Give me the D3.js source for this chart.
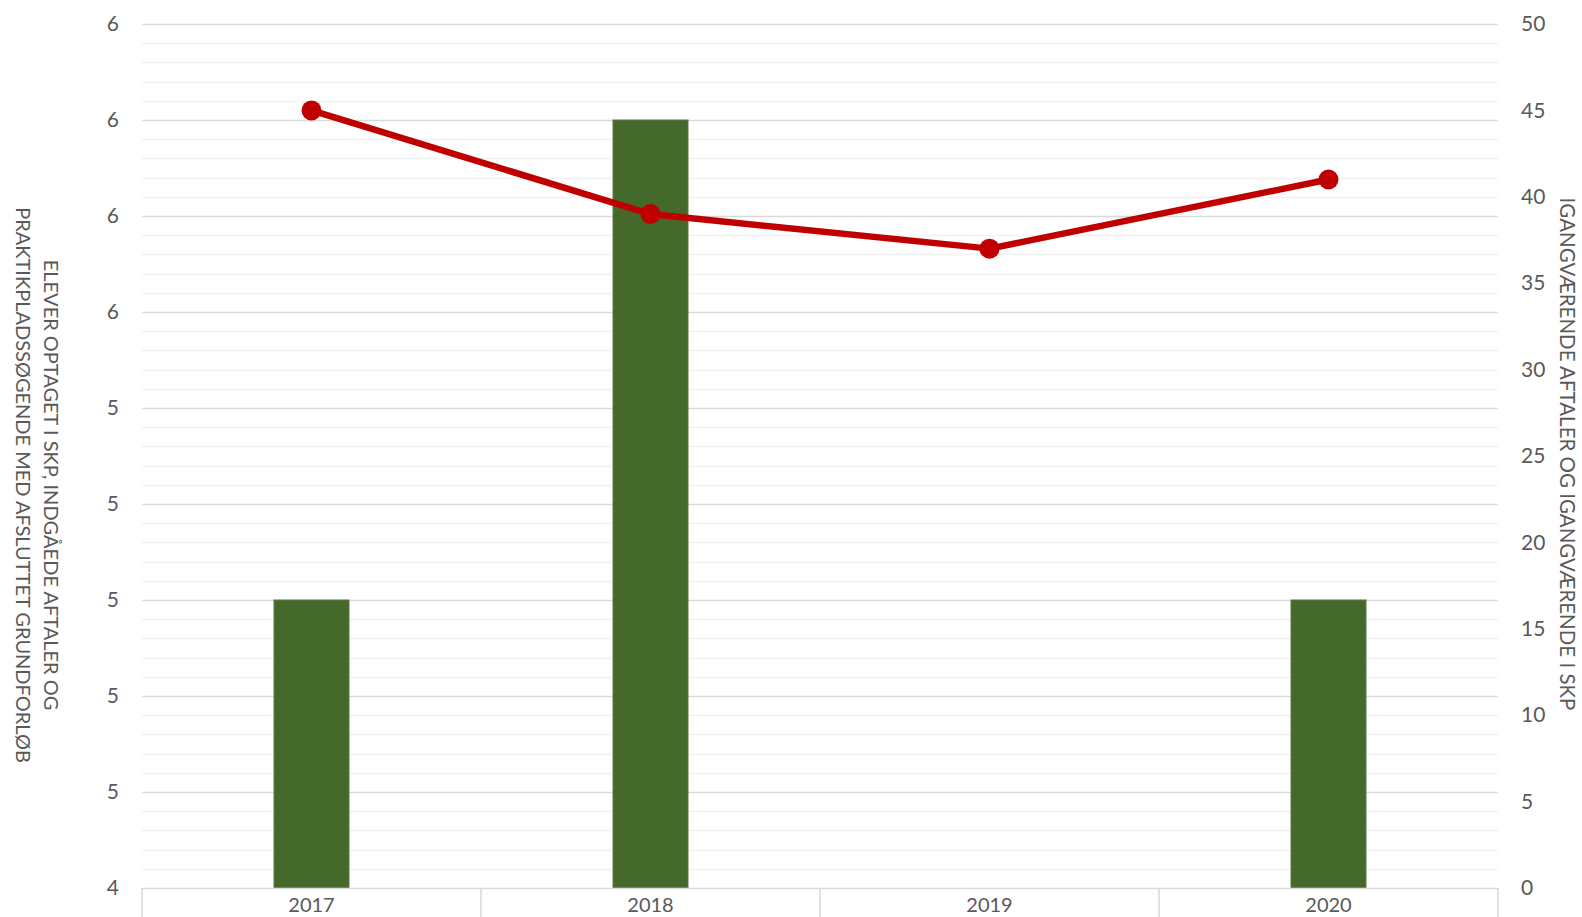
<!DOCTYPE html>
<html>
<head>
<meta charset="utf-8">
<script src="https://cdn.jsdelivr.net/npm/d3@7"></script>
<style>
  body { margin: 0; background: #fff; }
  text { font-family: Lato, "Open Sans", sans-serif; fill: #595959; }
</style>
</head>
<body>
<div id="chart"></div>
<script>
// Data
var years = ["2017", "2018", "2019", "2020"];
var barValues = [5, 6, null, 5];        // elever optaget i SKP mv. (left axis)
var lineValues = [45, 39, 37, 41];      // igangværende aftaler (right axis)
var leftTicks = [4.4, 4.6, 4.8, 5.0, 5.2, 5.4, 5.6, 5.8, 6.0, 6.2];
var rightTicks = [0, 5, 10, 15, 20, 25, 30, 35, 40, 45, 50];

var svgWidth = 1582;
var svgHeight = 917;

var margin = { top: 24, right: 84, bottom: 29, left: 142 };
var chartW = svgWidth - margin.left - margin.right;
var chartH = svgHeight - margin.top - margin.bottom;

var svg = d3.select("#chart")
  .append("svg")
  .attr("width", svgWidth)
  .attr("height", svgHeight);

var chartGrp = svg.append("g")
  .attr("transform", `translate(${margin.left}, ${margin.top})`);

// scales
var xScale = d3.scaleBand()
  .domain(years)
  .range([0, chartW]);

var yLeft = d3.scaleLinear()
  .domain([4.4, 6.2])
  .range([chartH, 0]);

var yRight = d3.scaleLinear()
  .domain([0, 50])
  .range([chartH, 0]);

// minor gridlines (every 0.04)
var minorTicks = d3.range(0, 46).map(i => 4.4 + i * 0.04).filter((d, i) => i % 5 != 0);
chartGrp.selectAll(".minor")
  .data(minorTicks)
  .enter()
  .append("line")
  .attr("x1", 0)
  .attr("x2", chartW)
  .attr("y1", d => Math.round(yLeft(d)) + 0.5)
  .attr("y2", d => Math.round(yLeft(d)) + 0.5)
  .attr("stroke", "#f2f2f2")
  .attr("stroke-width", 1.5);

// major gridlines
chartGrp.selectAll(".major")
  .data(leftTicks.slice(1))
  .enter()
  .append("line")
  .attr("x1", 0)
  .attr("x2", chartW)
  .attr("y1", d => Math.round(yLeft(d)) + 0.5)
  .attr("y2", d => Math.round(yLeft(d)) + 0.5)
  .attr("stroke", "#d9d9d9")
  .attr("stroke-width", 1.5);

// left axis labels
var leftAxis = d3.axisLeft(yLeft)
  .tickValues(leftTicks)
  .tickFormat(d3.format(".0f"))
  .tickSize(0)
  .tickPadding(23);
var leftG = chartGrp.append("g").call(leftAxis);
leftG.select(".domain").remove();
leftG.selectAll("text").attr("font-size", "21px").attr("fill", "#595959")
  .attr("font-family", "Lato, 'Open Sans', sans-serif");

// right axis labels
var rightAxis = d3.axisRight(yRight)
  .tickValues(rightTicks)
  .tickSize(0)
  .tickPadding(23);
var rightG = chartGrp.append("g")
  .attr("transform", `translate(${chartW}, 0)`)
  .call(rightAxis);
rightG.select(".domain").remove();
rightG.selectAll("text").attr("font-size", "21px").attr("fill", "#595959")
  .attr("font-family", "Lato, 'Open Sans', sans-serif");

// bars
chartGrp.selectAll(".bar")
  .data(years.map((y, i) => ({ year: y, v: barValues[i] })).filter(d => d.v != null))
  .enter()
  .append("rect")
  .attr("x", d => xScale(d.year) + xScale.bandwidth() / 2 - 37.5)
  .attr("width", 75)
  .attr("y", d => yLeft(d.v))
  .attr("height", d => chartH - yLeft(d.v))
  .attr("fill", "#44692b")
  .attr("stroke", "#5a7d44")
  .attr("stroke-width", 1);

// x axis line and category ticks
chartGrp.append("line")
  .attr("x1", 0)
  .attr("x2", chartW)
  .attr("y1", chartH + 0.5)
  .attr("y2", chartH + 0.5)
  .attr("stroke", "#d9d9d9")
  .attr("stroke-width", 1.5);

var bounds = years.map(y => xScale(y)).concat([chartW]);
chartGrp.selectAll(".xtick")
  .data(bounds)
  .enter()
  .append("line")
  .attr("x1", d => d)
  .attr("x2", d => d)
  .attr("y1", chartH)
  .attr("y2", chartH + 30)
  .attr("stroke", "#d9d9d9")
  .attr("stroke-width", 1.5);

chartGrp.selectAll(".xlabel")
  .data(years)
  .enter()
  .append("text")
  .attr("x", d => xScale(d) + xScale.bandwidth() / 2)
  .attr("y", chartH + 24)
  .attr("text-anchor", "middle")
  .attr("font-size", "20px")
  .text(d => d);

// line series
var line = d3.line()
  .x((d, i) => xScale(years[i]) + xScale.bandwidth() / 2)
  .y(d => yRight(d));

chartGrp.append("path")
  .datum(lineValues)
  .attr("d", line)
  .attr("fill", "none")
  .attr("stroke", "#c00000")
  .attr("stroke-width", 6.5)
  .attr("stroke-linejoin", "round");

chartGrp.selectAll(".dot")
  .data(lineValues)
  .enter()
  .append("circle")
  .attr("cx", (d, i) => xScale(years[i]) + xScale.bandwidth() / 2)
  .attr("cy", d => yRight(d))
  .attr("r", 10)
  .attr("fill", "#c00000");

// left axis title
var leftTitle = svg.append("text")
  .attr("transform", `translate(36, 485) rotate(90)`)
  .attr("text-anchor", "middle")
  .attr("font-size", "20px");
leftTitle.append("tspan")
  .attr("x", 0).attr("dy", "-0.4em")
  .text("ELEVER OPTAGET I SKP, INDGÅEDE AFTALER OG");
leftTitle.append("tspan")
  .attr("x", 0).attr("dy", "1.4em")
  .text("PRAKTIKPLADSSØGENDE MED AFSLUTTET GRUNDFORLØB");

// right axis title
svg.append("text")
  .attr("transform", `translate(1560, 454) rotate(90)`)
  .attr("text-anchor", "middle")
  .attr("font-size", "20.5px")
  .text("IGANGVÆRENDE AFTALER OG IGANGVÆRENDE I SKP");
</script>
</body>
</html>
